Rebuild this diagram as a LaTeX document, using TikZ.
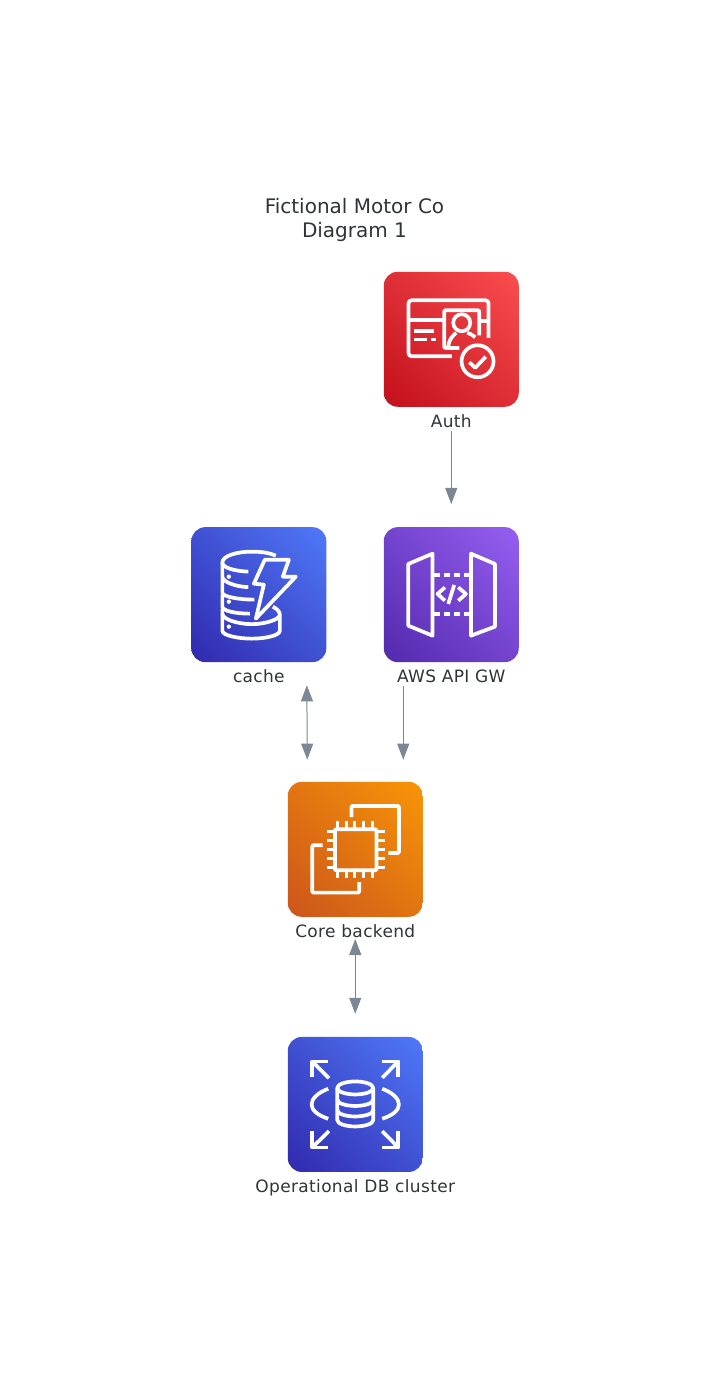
\documentclass[tikz,border=0pt]{standalone}
\usepackage{fontspec}
\setmainfont{DejaVu Sans}
\newfontfamily\lblfont[LetterSpace=2]{DejaVu Sans}
\usetikzlibrary{positioning,arrows.meta,shadings}
\definecolor{redA}{HTML}{C20F1C}
\definecolor{redB}{HTML}{FB4E50}
\definecolor{blueA}{HTML}{3129AE}
\definecolor{blueB}{HTML}{4F79F8}
\definecolor{purpleA}{HTML}{5229AC}
\definecolor{purpleB}{HTML}{965FF2}
\definecolor{orangeA}{HTML}{CB551B}
\definecolor{orangeB}{HTML}{F89508}
\definecolor{flowgrey}{HTML}{7B8794}
\definecolor{textgrey}{HTML}{2F3436}
\tikzset{
  svcbox/.style 2 args={rectangle, shade, rounded corners=14pt, minimum size=135pt, inner sep=0pt,
    lower left=#1, upper right=#2, upper left=#1!50!#2, lower right=#1!50!#2},
  svclabel/.style={text=textgrey, font=\lblfont\fontsize{17}{20}\selectfont, inner sep=0pt},
  flow/.style={draw=flowgrey, line width=1pt, -{Triangle[length=16pt,width=12pt]}},
  bothflow/.style={draw=flowgrey, line width=1pt, {Triangle[length=16pt,width=12pt]}-{Triangle[length=16pt,width=12pt]}},
  icon/.style={draw=white, line width=3.7pt, line join=round}
}
\begin{document}
\begin{tikzpicture}[x=1pt,y=-1pt]
\useasboundingbox (0,0) rectangle (711,1387);

\node[text=textgrey, align=center, font=\fontsize{20}{24}\selectfont, inner sep=0pt] (title) at (354.5,219.5) {Fictional Motor Co\\Diagram 1};

\node[svcbox={redA}{redB}] (auth) at (451.25,339.25) {};
\node[svcbox={purpleA}{purpleB}, below=120pt of auth] (apigw) {};
\node[svcbox={blueA}{blueB}, left=57pt of apigw] (cache) {};
\node[svcbox={orangeA}{orangeB}, below=119.25pt of apigw, xshift=-96pt] (core) {};
\node[svcbox={blueA}{blueB}, below=119.75pt of core] (dbcluster) {};

\node[svclabel, below=7.25pt of auth] (authlbl) {Auth};
\node[svclabel, below=7.25pt of apigw] (apigwlbl) {AWS API GW};
\node[svclabel, below=7.25pt of cache] (cachelbl) {cache};
\node[svclabel, below=7.25pt of core] (corelbl) {Core backend};
\node[svclabel, below=7.25pt of dbcluster] (dblbl) {Operational DB cluster};

% connectors
\draw[flow] ([yshift=-24.5pt] auth.south) -- ([yshift=23pt] apigw.north);
\draw[flow] ([xshift=-48pt, yshift=-24pt] apigw.south) -- ([xshift=48pt, yshift=22pt] core.north);
\draw[bothflow] ([xshift=48pt, yshift=-23pt] cache.south) -- ([xshift=-48pt, yshift=22pt] core.north);
\draw[bothflow] ([yshift=-22pt] core.south) -- ([yshift=23pt] dbcluster.north);

% auth icon
\begin{scope}[shift={(auth.center)}]
\draw[icon, rounded corners=3pt] (0.7,17) -- (-42.7,17) -- (-42.7,-39) -- (37.3,-39) -- (37.3,-1.3);
\draw[icon] (-42.7,-19) -- (-7,-19);
\draw[icon] (28,-18) -- (37.3,-18);
\draw[icon, rounded corners=1pt] (28,-4) -- (28,-29) -- (-7,-29) -- (-7,8.7) -- (8,8.7);
\draw[icon] (10.5,-16.5) circle (8.5);
\draw[icon] (-3,8.7) .. controls (-3,0) and (3,-5) .. (5,-6.5);
\draw[icon] (16,-6.5) .. controls (19,-5.5) and (22,-4) .. (24,-2);
\draw[icon] (-37,-8.3) -- (-17,-8.3);
\draw[icon] (-37,0.3) -- (-24.3,0.3);
\draw[icon] (-20.3,0.3) -- (-15.3,0.3);
\draw[icon] (26.3,22) circle (16);
\draw[icon] (18,23) -- (24,28.5) -- (34.5,17.5);
\end{scope}

% cache icon
\begin{scope}[shift={(cache.center)}]
\draw[icon] (17,-39) .. controls (12,-41) and (6,-43) .. (-7,-43) .. controls (-22,-43) and (-36.5,-39) .. (-36.5,-32) .. controls (-36.5,-27) and (-24,-23.5) .. (-10.5,-23);
\draw[icon] (-36.5,-32) -- (-36.5,-18) .. controls (-36.5,-13) and (-24,-8) .. (-10.5,-7.5);
\draw[icon] (-36.5,-16) -- (-36.5,-2) .. controls (-36.5,2) and (-20,5) .. (-4.5,5);
\draw[icon] (-36.5,0) -- (-36.5,12) .. controls (-36.5,16) and (-24,19) .. (-9,19);
\draw[icon] (-36.5,14) -- (-36.5,36) .. controls (-36.5,41) and (-20,44) .. (-7,44) .. controls (6,44) and (21,41) .. (21,36) -- (21,20) .. controls (21,17) and (18,14) .. (14,12);
\draw[icon] (-36.5,19) .. controls (-36.5,25) and (-20,29.5) .. (-7,29.5) .. controls (6,29.5) and (21,25) .. (21,20);
\fill[white] (-30,-18) circle (2.2) (-30,7) circle (2.2) (-30,32) circle (2.2);
\draw[icon, fill=none] (6,-35) -- (30,-35) -- (24,-18) -- (37,-18) -- (-3,24) -- (5,-10) -- (-5,-11) -- cycle;
\end{scope}

% api gateway icon
\begin{scope}[shift={(apigw.center)}]
\draw[icon] (-18.7,-41) -- (-43,-30.7) -- (-43,31) -- (-18.7,41) -- cycle;
\draw[icon] (19.7,-41) -- (43.7,-30.7) -- (43.7,32) -- (19.7,41) -- cycle;
\draw[icon, dash pattern=on 5.5pt off 4.5pt] (-17,-20) -- (19,-20);
\draw[icon, dash pattern=on 5.5pt off 4.5pt] (-17,19.3) -- (19,19.3);
\draw[icon] (-6.3,-7.3) -- (-13.7,-0.7) -- (-6.3,6);
\draw[icon] (7,-7.3) -- (14.7,-0.7) -- (7,6);
\draw[icon] (3,-9.7) -- (-3,9.3);
\end{scope}

% core icon
\begin{scope}[shift={(core.center)}]
\draw[icon, rounded corners=1pt] (-3.7,-32.3) -- (-3.7,-43.3) -- (43.7,-43.3) -- (43.7,3.7) -- (33,3.7);
\draw[icon, rounded corners=1pt] (-32.7,-4) -- (-43,-4) -- (-43,43.3) -- (4,43.3) -- (4,32.7);
\draw[icon, rounded corners=1pt] (-20.3,-20) rectangle (21.3,21);
\foreach \p in {-17.7,-9,-0.3,8.7,17.3} {
  \draw[icon, line width=3pt] (\p,-28.5) -- (\p,-20);
  \draw[icon, line width=3pt] (\p,21) -- (\p,29);
}
\foreach \p in {-18,-9,0,9,18} {
  \draw[icon, line width=3pt] (-28.5,\p) -- (-20.3,\p);
  \draw[icon, line width=3pt] (21.3,\p) -- (29.5,\p);
}
\end{scope}

% db cluster icon
\begin{scope}[shift={(dbcluster.center)}]
\draw[icon] (-27,-43) -- (-43,-43) -- (-43,-27);
\draw[icon] (-43,-43) -- (-26.3,-26.3);
\draw[icon] (27,-43) -- (43,-43) -- (43,-27);
\draw[icon] (43,-43) -- (27,-26.7);
\draw[icon] (-43,27) -- (-43,43) -- (-27,43);
\draw[icon] (-43,43) -- (-26.3,26.7);
\draw[icon] (43,27) -- (43,43) -- (27,43);
\draw[icon] (43,43) -- (27,26.7);
\draw[icon] (-27,-15.7) .. controls (-37,-12) and (-43.7,-6) .. (-43.7,0) .. controls (-43.7,6) and (-37,11) .. (-27,14.3);
\draw[icon] (27,-15.7) .. controls (37,-12) and (43.7,-6) .. (43.7,0) .. controls (43.7,6) and (37,11) .. (27,14.3);
\draw[icon] (0,-16.5) ellipse (18 and 6.5);
\draw[icon] (-18,-16.5) -- (-18,15.5) .. controls (-18,19.5) and (-9,22) .. (0,22) .. controls (9,22) and (18,19.5) .. (18,15.5) -- (18,-16.5);
\draw[icon] (-18,-5) .. controls (-18,-1) and (-9,1.5) .. (0,1.5) .. controls (9,1.5) and (18,-1) .. (18,-5);
\draw[icon] (-18,5.5) .. controls (-18,9.5) and (-9,12) .. (0,12) .. controls (9,12) and (18,9.5) .. (18,5.5);
\end{scope}
\end{tikzpicture}
\end{document}
